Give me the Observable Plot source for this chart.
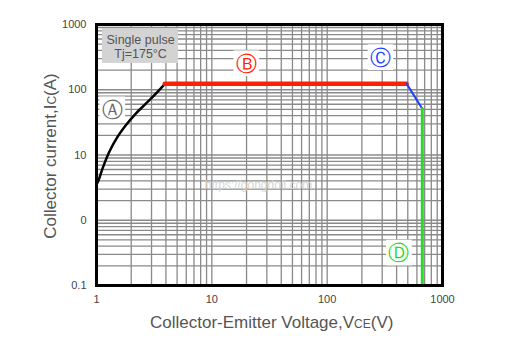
<!DOCTYPE html>
<html><head><meta charset="utf-8">
<script src="https://cdn.jsdelivr.net/npm/d3@7"></script>
<script src="https://cdn.jsdelivr.net/npm/@observablehq/plot@0.6"></script>
<style>body{margin:0;background:#fff} svg{font-family:"Liberation Sans",Arial,Helvetica,sans-serif}</style>
</head><body><div id="chart"></div>
<script>
// axes
const xTicks = [1, 10, 100, 1000];
const xTickLabels = ["1", "10", "100", "1000"];
const yTicks = [0.1, 1, 10, 100, 1000];
const yTickLabels = ["0.1", "0", "10", "100", "1000"];

// SOA boundary segments
const curveA_V = [1.0, 1.02, 1.127, 1.289, 1.521, 1.795, 2.192, 2.677, 3.27, 3.9];
const curveA_I = [3.6, 3.78, 6.19, 11.1, 18.9, 28.5, 43.1, 61.2, 87.1, 122];
const lineB_V = [3.9, 488];
const lineB_I = [124, 124];
const lineC_V = [488, 668];
const lineC_I = [124, 51];
const lineD_V = [668, 668];
const lineD_I = [51, 0.1];

// region labels
const labelText = ["Ⓐ", "Ⓑ", "Ⓒ", "Ⓓ"];
const labelV = [1.37, 19.9, 290, 419];
const labelI = [50, 255, 316, 0.32];
const labelColor = ["#666", "#ff2200", "#1f3fff", "#22dd22"];

// condition box
const boxLines = ["Single pulse", "Tj=175°C"];
const boxV = [1.127, 5.14];
const boxI = [253, 868];
const boxTextV = 2.41;
const boxTextI = [569, 347];

const watermark = "https://gongdoli.com";
const watermarkV = 25.4, watermarkI = 3.4;

// log grid lines
const gridX = [], gridY = [];
for (let e = 0; e < 3; e++) for (let m = 1; m < 10; m++) gridX.push(m * 10 ** e);
for (let e = -1; e < 3; e++) for (let m = 1; m < 10; m++) gridY.push(m * 10 ** e);

const xLabelMap = new Map(xTicks.map((t, i) => [t, xTickLabels[i]]));
const yLabelMap = new Map(yTicks.map((t, i) => [t, yTickLabels[i]]));
const toPts = (vs, is) => vs.map((v, i) => ({v, i: is[i]}));

const plot = Plot.plot({
  width: 514, height: 356,
  marginLeft: 96, marginRight: 72, marginTop: 24, marginBottom: 71,
  x: {type: "log", domain: [1, 1000], axis: null},
  y: {type: "log", domain: [0.1, 1000], axis: null},
  style: {fontFamily: "Liberation Sans, Arial, sans-serif", background: "#fff"},
  marks: [
    Plot.ruleX(gridX, {x: d => d, stroke: "#8a8a8a", strokeWidth: 1.3, strokeOpacity: 1}),
    Plot.ruleY(gridY, {y: d => d, stroke: "#8a8a8a", strokeWidth: 1.3, strokeOpacity: 1}),
    Plot.text([watermark], {x: () => watermarkV, y: () => watermarkI, text: d => d, fill: "#d6d6d6", fontSize: 12}),
    Plot.rect([0], {x1: () => boxV[0], x2: () => boxV[1], y1: () => boxI[0], y2: () => boxI[1], fill: "#d3d3d3"}),
    Plot.text(boxLines, {x: () => boxTextV, y: (d, i) => boxTextI[i], text: d => d, fill: "#555", fontSize: 12.5}),
    Plot.dot(labelText, {x: (d, i) => labelV[i], y: (d, i) => labelI[i], symbol: "square", r: 14.5, fill: "white", stroke: "none"}),
    Plot.text(labelText, {x: (d, i) => labelV[i], y: (d, i) => labelI[i], text: d => d, fill: (d, i) => labelColor[i], fontSize: 21, fontFamily: "DejaVu Sans", dy: 1}),
    Plot.line(toPts(curveA_V, curveA_I), {x: "v", y: "i", stroke: "black", strokeWidth: 2.5, curve: "monotone-x"}),
    Plot.line(toPts(lineB_V, lineB_I), {x: "v", y: "i", stroke: "#ff2200", strokeWidth: 4.5}),
    Plot.line(toPts(lineC_V, lineC_I), {x: "v", y: "i", stroke: "#1f3fff", strokeWidth: 2}),
    Plot.line(toPts(lineD_V, lineD_I), {x: "v", y: "i", stroke: "#22dd22", strokeWidth: 3}),
    Plot.frame({stroke: "black", strokeWidth: 3}),
    Plot.text(xTicks, {x: d => d, frameAnchor: "bottom", dy: 17, text: d => xLabelMap.get(d), fill: "#444", fontSize: 11}),
    Plot.text(yTicks, {y: d => d, frameAnchor: "left", dx: -10, textAnchor: "end", text: d => yLabelMap.get(d), fill: "#444", fontSize: 11})
  ]
});
document.getElementById("chart").appendChild(plot);

const svg = d3.select(plot);
const xt = svg.append("text").attr("x", 150).attr("y", 328).attr("text-anchor", "start").attr("fill", "#555").attr("font-size", 17);
xt.append("tspan").text("Collector-Emitter Voltage,V");
xt.append("tspan").attr("font-size", 12).text("CE");
xt.append("tspan").text("(V)");
const yt = svg.append("text").attr("transform", "translate(56,156) rotate(-90)").attr("text-anchor", "middle").attr("fill", "#555").attr("font-size", 17);
yt.append("tspan").text("Collector current,I");
yt.append("tspan").attr("font-size", 12).text("C");
yt.append("tspan").text("(A)");
</script></body></html>
